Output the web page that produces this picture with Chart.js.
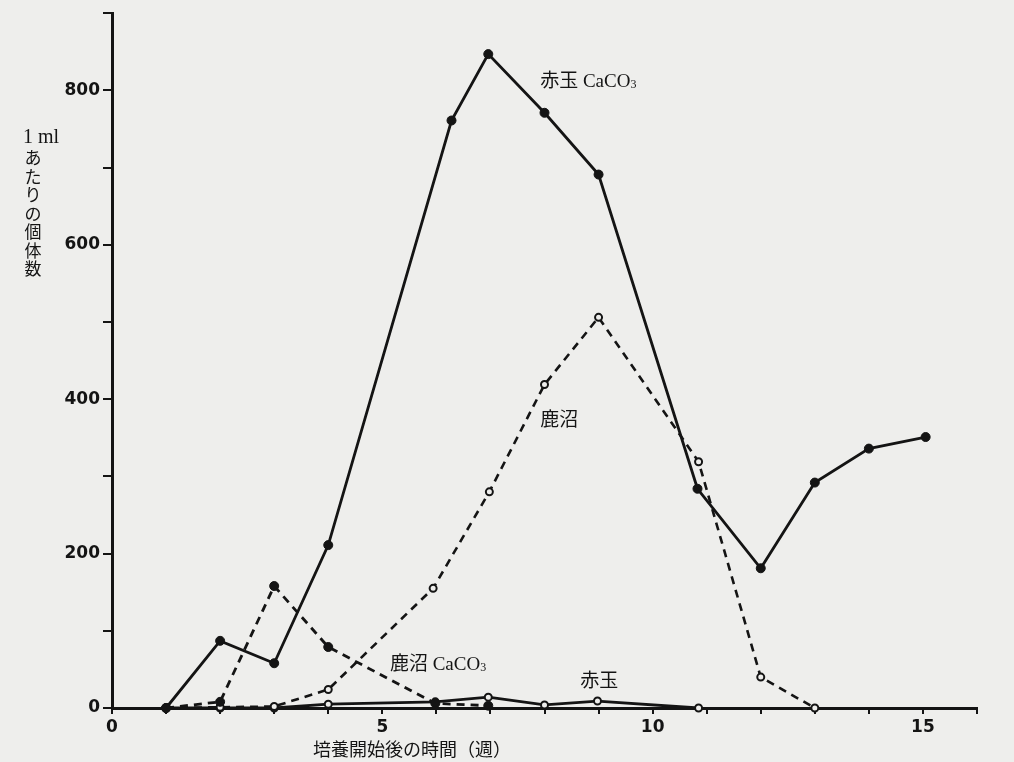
<!DOCTYPE html>
<html>
<head>
<meta charset="utf-8">
<script src="https://cdn.jsdelivr.net/npm/chart.js@4.4.0/dist/chart.umd.min.js"></script>
<style>
  body{margin:0;background:#eeeeec;}
  #c{display:block;}
</style>
</head>
<body>
<canvas id="c" width="1014" height="762"></canvas>
<script>
// weeks after start / individuals per 1 ml
const akaCaX = [1, 2, 3, 4, 6.28, 6.96, 8, 9, 10.83, 12, 13, 14, 15.05];
const akaCaY = [0, 87, 58, 211, 761, 847, 771, 691, 284, 181, 292, 336, 351];

const kanumaX = [1, 2, 3, 4, 5.94, 6.98, 8, 9, 10.85, 12, 13];
const kanumaY = [0, 1, 2, 24, 155, 280, 419, 506, 319, 40, 0];

const kanumaCaX = [1, 2, 3, 4, 5.98, 6.96];
const kanumaCaY = [0, 8, 158, 79, 6, 3];

const akaX = [1, 2, 3, 4, 5.98, 6.96, 8, 8.98, 10.85];
const akaY = [0, 0, 0, 5, 8, 14, 4, 9, 0];

const xTickLabels = [0, 5, 10, 15];
const yTickLabels = [0, 200, 400, 600, 800];

const yTitleTop = '1 ml';
const yTitleChars = ['あ','た','り','の','個','体','数'];
const xTitle = '培養開始後の時間（週）';

const ink = '#141414';
const paper = '#eeeeec';

function pts(xs, ys){ return xs.map((x,i)=>({x:x, y:ys[i]})); }

const serif = '"Liberation Serif", "Noto Sans CJK JP", serif';

// series labels: [main text, subscript, x, y] in data units
const seriesLabels = [
  ['赤玉 CaCO', '3', 7.92, 811],
  ['鹿沼', '', 7.92, 372],
  ['鹿沼 CaCO', '3', 5.14, 56],
  ['赤玉', '', 8.66, 34]
];

const textPlugin = {
  id:'texts',
  beforeDraw(chart){
    const c = chart.ctx;
    c.save();
    c.fillStyle = paper;
    c.fillRect(0,0,chart.width,chart.height);
    c.restore();
  },
  afterDraw(chart){
    const c = chart.ctx;
    const xs = chart.scales.x, ys = chart.scales.y;
    c.save();
    c.fillStyle = ink;
    c.textBaseline = 'middle';
    seriesLabels.forEach(l=>{
      let px = xs.getPixelForValue(l[2]);
      let py = ys.getPixelForValue(l[3]);
      c.textAlign = 'left';
      c.font = '19px ' + serif;
      c.fillText(l[0], px, py);
      if(l[1]){
        let w = c.measureText(l[0]).width;
        c.font = '12px ' + serif;
        c.fillText(l[1], px + w, py + 3);
      }
    });
    // y title
    c.textAlign = 'center';
    c.font = '20px ' + serif;
    c.fillText(yTitleTop, 41, 138);
    c.font = '17px ' + serif;
    yTitleChars.forEach((ch,i)=>{
      c.fillText(ch, 33, 160 + i*18.5);
    });
    // x title
    c.font = '18px ' + serif;
    c.fillText(xTitle, 412, 751);
    c.restore();
  }
};

const filled = {pointRadius:4.5, pointBackgroundColor:ink, pointBorderColor:ink, pointBorderWidth:1};
const open = {pointRadius:3.5, pointBackgroundColor:paper, pointBorderColor:ink, pointBorderWidth:2};

new Chart(document.getElementById('c'), {
  type:'line',
  data:{
    datasets:[
      Object.assign({label:'赤玉 CaCO3', data:pts(akaCaX, akaCaY), borderColor:ink, borderWidth:2.8, clip:false}, filled),
      Object.assign({label:'鹿沼 CaCO3', data:pts(kanumaCaX, kanumaCaY), borderColor:ink, borderWidth:2.8, borderDash:[8,6], clip:false}, filled),
      Object.assign({label:'鹿沼', data:pts(kanumaX, kanumaY), borderColor:ink, borderWidth:2.6, borderDash:[8,6], clip:false}, open),
      Object.assign({label:'赤玉', data:pts(akaX, akaY), borderColor:ink, borderWidth:2.8, clip:false}, open)
    ]
  },
  options:{
    responsive:false,
    animation:false,
    devicePixelRatio:1,
    layout:{padding:{top:12, right:37, left:0, bottom:0}},
    plugins:{legend:{display:false}, tooltip:{enabled:false}},
    scales:{
      x:{
        type:'linear', min:0, max:16,
        border:{color:ink, width:3},
        grid:{drawOnChartArea:false, color:ink, lineWidth:2, tickLength:6},
        ticks:{
          stepSize:1, color:ink, padding:3, maxRotation:0, autoSkip:false,
          font:{family:'"DejaVu Sans"', size:17, weight:'bold'},
          callback:v => xTickLabels.includes(v) ? String(v) : ''
        },
        afterFit(s){ s.height = 54; }
      },
      y:{
        min:0, max:900,
        border:{color:ink, width:3},
        grid:{drawOnChartArea:false, color:ink, lineWidth:2, tickLength:9},
        ticks:{
          stepSize:100, color:ink, padding:3, autoSkip:false,
          font:{family:'"DejaVu Sans"', size:17, weight:'bold'},
          callback:v => yTickLabels.includes(v) ? String(v) : ''
        },
        afterFit(s){ s.width = 112; }
      }
    }
  },
  plugins:[textPlugin]
});
</script>
</body>
</html>
